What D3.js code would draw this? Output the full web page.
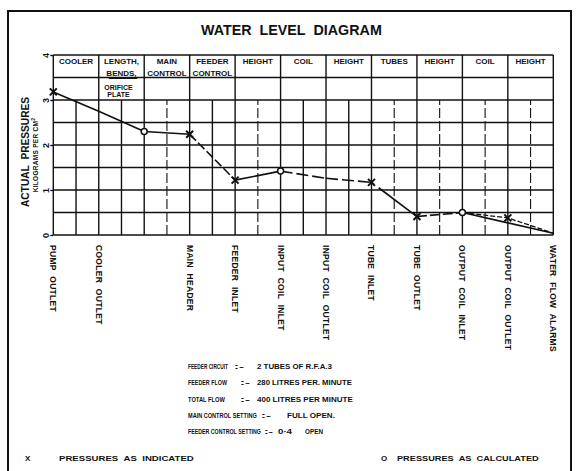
<!DOCTYPE html>
<html>
<head>
<meta charset="utf-8">
<script src="https://cdn.jsdelivr.net/npm/d3@7"></script>
<style>
  html, body { margin: 0; padding: 0; background: #fff; }
  svg { display: block; }
  text { font-family: "Liberation Sans", Arial, sans-serif; font-weight: bold; fill: #111; }
</style>
</head>
<body>
<svg id="chart" width="579" height="471"></svg>
<script>
// Measuring stations along the water circuit (grid units along the x axis)
const stationPos = [0, 2, 4, 6, 8, 10, 12, 14, 16, 18, 20, 22];
const stationNames = ["PUMP OUTLET", "COOLER OUTLET", "", "MAIN HEADER", "FEEDER INLET",
  "INPUT COIL INLET", "INPUT COIL OUTLET", "TUBE INLET", "TUBE OUTLET",
  "OUTPUT COIL INLET", "OUTPUT COIL OUTLET", "WATER FLOW ALARMS"];
// Pressure at each station, kg per cm²
const pressures = [3.18, 2.75, 2.30, 2.24, 1.22, 1.42, 1.26, 1.17, 0.41, 0.50, 0.27, 0.04];
// x = pressure as indicated, o = pressure as calculated
const markerKinds = ["x", "", "o", "x", "x", "o", "", "x", "x", "o", "", ""];
// dash pattern of the segment leaving each station
const segmentDash = ["", "", "", "9,3", "", "12,4", "12,4", "3,6,60", "10,3", "", ""];

// Calculated branch over the output coil
const calcPos = [18, 20, 22];
const calcPressures = [0.50, 0.38, 0.04];
const calcMarkers = ["", "x", ""];

// Sections of the circuit, shown in the header band
const sectionStart = [0, 2, 4, 6, 8, 10, 12, 14, 16, 18, 20];
const sectionNames = [["COOLER"], ["LENGTH,", "BENDS,"], ["MAIN", "CONTROL"], ["FEEDER", "CONTROL"],
  ["HEIGHT"], ["COIL"], ["HEIGHT"], ["TUBES"], ["HEIGHT"], ["COIL"], ["HEIGHT"]];
const sectionSubNotes = [[], ["ORIFICE", "PLATE"], [], [], [], [], [], [], [], [], []];

const yTicks = [0, 1, 2, 3, 4];
const gridRows = [0, 0.5, 1, 1.5, 2, 2.5, 3, 3.5, 4];
const brokenColumns = [5, 9, 15, 17, 19, 21];

// Test conditions: [text, left x, width]
const notes = [
  [["FEEDER CIRCUIT", 188, 40], [":-", 234, 10], ["2 TUBES OF R.F.A.3", 257, 75]],
  [["FEEDER FLOW", 188, 39], [":-", 240, 10], ["280 LITRES PER. MINUTE", 257, 95]],
  [["TOTAL FLOW", 188, 37], [":-", 240, 10], ["400 LITRES PER MINUTE", 257, 96]],
  [["MAIN CONTROL SETTING", 188, 69], [":-", 261, 10], ["FULL OPEN.", 287, 48]],
  [["FEEDER CONTROL SETTING", 188, 73], [":-", 264, 9], ["0·4", 278, 14], ["OPEN", 305, 18]]
];
const noteBaselines = [368.5, 385, 401.5, 418, 433.5];

const svg = d3.select("#chart");
const ink = "#111";

// Place a text so that it spans a given width, squeezing the glyphs horizontally
function fitText(sel, str, px, py, width, size, anchor) {
  const t = sel.append("text").style("font-size", size + "px").text(str);
  const natural = t.node().getComputedTextLength();
  const k = width / natural;
  const left = anchor === "middle" ? px - width / 2 : px;
  t.attr("transform", `translate(${left},${py}) scale(${k},1)`);
  return t;
}

// Outer frame
svg.append("path")
  .attr("d", "M8,471V11H571V471")
  .attr("fill", "none").attr("stroke", ink).attr("stroke-width", 2);

// Title
fitText(svg, "WATER\u00a0\u00a0LEVEL\u00a0\u00a0DIAGRAM", 201, 35, 181, 14);

const x = d3.scaleLinear().domain([0, 22]).range([53.3, 553.3]);
const y = d3.scaleLinear().domain([0, 4]).range([235, 55]);

// Grid
const grid = svg.append("g").attr("stroke", ink).attr("stroke-width", 1.4);
grid.selectAll("line.row").data(gridRows).join("line")
  .attr("class", "row")
  .attr("x1", x(0)).attr("x2", x(22))
  .attr("y1", d => y(d)).attr("y2", d => y(d));
grid.selectAll("line.col").data(d3.range(0, 23)).join("line")
  .attr("class", "col")
  .attr("x1", d => x(d)).attr("x2", d => x(d))
  .attr("y1", y(0))
  .attr("y2", d => d % 2 === 0 ? y(4) : y(3))
  .attr("stroke-dasharray", d => brokenColumns.includes(d) ? "10,3" : null)
  .attr("stroke-width", d => brokenColumns.includes(d) ? 1.1 : 1.4);

// Y axis ticks and labels
const yAxis = d3.axisLeft(y).tickValues(yTicks).tickSize(3).tickFormat(d3.format("d"));
const ya = svg.append("g").attr("transform", `translate(${x(0)},0)`).call(yAxis);
ya.select(".domain").remove();
ya.selectAll(".tick line").attr("stroke", ink).attr("stroke-width", 1.4);
ya.selectAll(".tick text")
  .attr("x", 0).attr("dy", null)
  .attr("transform", "translate(-7,0) rotate(-90)")
  .attr("text-anchor", "middle")
  .attr("dominant-baseline", "central")
  .style("font-family", "Liberation Sans, Arial, sans-serif")
  .style("font-weight", "bold")
  .style("font-size", "9px")
  .attr("fill", ink);

// Y axis title
svg.append("text")
  .attr("transform", "translate(29,152) rotate(-90)")
  .attr("text-anchor", "middle")
  .attr("textLength", 110).attr("lengthAdjust", "spacingAndGlyphs")
  .style("font-size", "10px")
  .text("ACTUAL\u00a0\u00a0PRESSURES");
const sub = svg.append("text")
  .attr("transform", "translate(38,155) rotate(-90)")
  .attr("text-anchor", "middle")
  .style("font-size", "6.5px")
  .style("letter-spacing", "0.3px");
sub.append("tspan").text("KILOGRAMS PER CM");
sub.append("tspan").attr("dy", -3).style("font-size", "5px").text("2");

// Header band labels
const header = svg.append("g");
sectionStart.forEach((s, i) => {
  const cx = x(s + 1);
  sectionNames[i].forEach((line, j) => {
    header.append("text")
      .attr("x", cx).attr("y", j === 0 ? 63.5 : 76)
      .attr("text-anchor", "middle")
      .style("font-size", "8px")
      .text(line);
  });
  sectionSubNotes[i].forEach((line, j) => {
    header.append("text")
      .attr("x", cx - 3).attr("y", j === 0 ? 89.5 : 96.5)
      .attr("text-anchor", "middle")
      .style("font-size", "7px")
      .text(line);
  });
});
// underline under "BENDS,"
header.append("line")
  .attr("x1", x(2) + 10).attr("x2", x(4) - 7)
  .attr("y1", 78.5).attr("y2", 78.5)
  .attr("stroke", ink).attr("stroke-width", 1);

// Pressure line, segment by segment
const lineG = svg.append("g").attr("fill", "none").attr("stroke", ink).attr("stroke-width", 1.6);
for (let i = 0; i < stationPos.length - 1; i++) {
  lineG.append("path")
    .attr("d", d3.line()([[x(stationPos[i]), y(pressures[i])], [x(stationPos[i + 1]), y(pressures[i + 1])]]))
    .attr("stroke-dasharray", segmentDash[i] || null);
}
// Calculated branch
lineG.append("path")
  .attr("d", d3.line().x(d => x(d[0])).y(d => y(d[1]))(calcPos.map((p, i) => [p, calcPressures[i]])))
  .attr("stroke-dasharray", "5,2")
  .attr("stroke-width", 1.3);

// Markers
function drawMarker(g, kind, px, py) {
  if (kind === "x") {
    g.append("path")
      .attr("d", `M${px - 3.5},${py - 3.5}L${px + 3.5},${py + 3.5}M${px - 3.5},${py + 3.5}L${px + 3.5},${py - 3.5}`)
      .attr("stroke", ink).attr("stroke-width", 2).attr("fill", "none");
  } else if (kind === "o") {
    g.append("circle").attr("cx", px).attr("cy", py).attr("r", 3)
      .attr("fill", "#fff").attr("stroke", ink).attr("stroke-width", 1.5);
  }
}
const markG = svg.append("g");
stationPos.forEach((p, i) => drawMarker(markG, markerKinds[i], x(p), y(pressures[i])));
calcPos.forEach((p, i) => drawMarker(markG, calcMarkers[i], x(p), y(calcPressures[i])));

// Station names below the axis
svg.append("g").selectAll("text").data(stationPos).join("text")
  .attr("transform", d => `translate(${x(d)},245) rotate(90)`)
  .attr("dominant-baseline", "central")
  .style("font-size", "8.5px")
  .style("letter-spacing", "0.3px")
  .style("word-spacing", "3px")
  .text((d, i) => stationNames[i]);

// Test conditions block
const notesG = svg.append("g");
notes.forEach((row, r) => {
  row.forEach(([t, px, w]) => fitText(notesG, t, px, noteBaselines[r], w, 8));
});

// Legend
svg.append("text").attr("x", 25).attr("y", 461).style("font-size", "8px").text("X");
fitText(svg, "PRESSURES\u00a0\u00a0AS\u00a0\u00a0INDICATED", 59, 461, 135, 7.5);
svg.append("text").attr("x", 381).attr("y", 461).style("font-size", "8px").text("O");
fitText(svg, "PRESSURES\u00a0\u00a0AS\u00a0\u00a0CALCULATED", 397, 461, 142, 7.5);
</script>
</body>
</html>
